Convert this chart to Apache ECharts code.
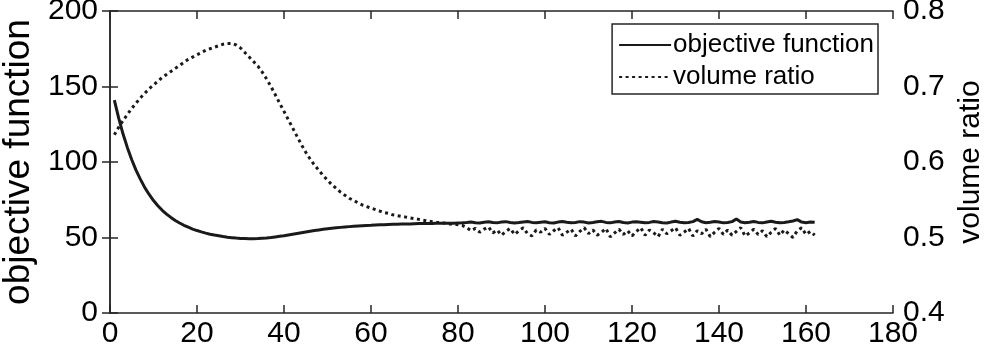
<!DOCTYPE html>
<html>
<head>
<meta charset="utf-8">
<script src="https://cdn.jsdelivr.net/npm/echarts@6/dist/echarts.min.js"></script>
<style>
	html, body { margin: 0; padding: 0; background: #fff; }
	#chartDiv { width: 995px; height: 355px; }
</style>
</head>
<body>
<div id="chartDiv"></div>
<script>
// objective function, iterations 1..162 (left axis)
var objValues = [
	141, 129, 118.5, 109.5, 101.5, 94.5, 88.5, 83, 78.5, 74.5,
	71, 68, 65.5, 63.3, 61.3, 59.6, 58.1, 56.8, 55.6, 54.6,
	53.7, 52.9, 52.2, 51.6, 51.1, 50.6, 50.2, 49.9, 49.6, 49.4,
	49.3, 49.2, 49.2, 49.3, 49.5, 49.7, 50.0, 50.4, 50.8, 51.2,
	51.7, 52.2, 52.7, 53.2, 53.7, 54.2, 54.6, 55.0, 55.4, 55.8,
	56.1, 56.4, 56.7, 57.0, 57.2, 57.4, 57.6, 57.8, 58.0, 58.1,
	58.3, 58.4, 58.5, 58.6, 58.7, 58.8, 58.9, 59.0, 59.0, 59.1,
	59.2, 59.2, 59.3, 59.3, 59.4, 59.4, 59.5, 59.5, 59.5, 59.6,
	59.7, 59.9, 60.2, 59.8, 59.6, 60.1, 60.4, 59.9, 59.7, 60.2,
	60.5, 60.0, 59.6, 59.9, 60.3, 60.6, 60.0, 59.7, 60.1, 60.4,
	59.8, 59.6, 60.2, 60.6, 60.1, 59.7, 60.0, 60.5, 60.2, 59.6,
	59.9, 60.4, 60.7, 60.0, 59.7, 60.3, 60.6, 59.9, 59.6, 60.2,
	60.5, 60.1, 59.7, 60.0, 60.6, 60.3, 59.8, 59.6, 60.2, 60.7,
	60.1, 59.7, 60.0, 60.5, 62.0, 60.4, 59.8, 60.1, 60.6, 60.2,
	59.7, 59.9, 60.5, 62.3, 60.3, 59.8, 60.1, 60.6, 60.0, 59.7,
	60.2, 60.7, 60.1, 59.7, 60.0, 60.4, 60.9, 61.8, 60.2, 59.8,
	60.3, 60.1
];

// volume ratio, iterations 1..162 (right axis)
var volValues = [
	0.636, 0.646, 0.655, 0.663, 0.671, 0.678, 0.685, 0.691, 0.697, 0.702,
	0.707, 0.712, 0.716, 0.720, 0.724, 0.728, 0.732, 0.736, 0.739, 0.742,
	0.745, 0.748, 0.750, 0.752, 0.754, 0.756, 0.757, 0.757, 0.755, 0.751,
	0.745, 0.739, 0.733, 0.727, 0.719, 0.710, 0.700, 0.689, 0.678, 0.667,
	0.656, 0.645, 0.634, 0.623, 0.613, 0.604, 0.596, 0.589, 0.582, 0.576,
	0.570, 0.565, 0.560, 0.556, 0.552, 0.549, 0.546, 0.543, 0.541, 0.539,
	0.537, 0.535, 0.533, 0.532, 0.530, 0.529, 0.528, 0.527, 0.526, 0.525,
	0.524, 0.523, 0.522, 0.521, 0.520, 0.520, 0.519, 0.518, 0.518, 0.517,
	0.516, 0.513, 0.509, 0.512, 0.507, 0.511, 0.514, 0.506, 0.510, 0.503,
	0.508, 0.512, 0.504, 0.509, 0.513, 0.505, 0.502, 0.510, 0.507, 0.512,
	0.504, 0.509, 0.513, 0.503, 0.507, 0.511, 0.502, 0.508, 0.513, 0.505,
	0.510, 0.503, 0.507, 0.512, 0.501, 0.506, 0.511, 0.504, 0.509, 0.502,
	0.508, 0.513, 0.503, 0.510, 0.506, 0.501, 0.511, 0.505, 0.509, 0.513,
	0.503, 0.507, 0.512, 0.502, 0.509, 0.505, 0.511, 0.501, 0.507, 0.512,
	0.504, 0.510, 0.503, 0.508, 0.513, 0.502, 0.506, 0.511, 0.504, 0.509,
	0.501, 0.507, 0.512, 0.503, 0.510, 0.505, 0.500, 0.509, 0.513, 0.504,
	0.508, 0.503
];

var xTicks = { min: 0, max: 180, interval: 20 };
var leftTicks = { min: 0, max: 200, interval: 50 };
var rightTicks = { min: 0.4, max: 0.8, interval: 0.1 };

var seriesNames = ['objective function', 'volume ratio'];
var axisNames = ['objective function', 'volume ratio'];

var FONT = '"Liberation Sans", Arial, Helvetica, sans-serif';
var AX = '#262626';
var LINE = '#1a1a1a';

function toPairs(arr) {
	var res = [];
	for (var i = 0; i < arr.length; i++) {
		res.push([i + 1, arr[i]]);
	}
	return res;
}

var chart = echarts.init(document.getElementById('chartDiv'));

var option = {
	animation: false,
	backgroundColor: '#fff',
	grid: {
		left: 110,
		right: 102,
		top: 11,
		bottom: 42,
		containLabel: false,
		outerBoundsMode: 'none'
	},
	legend: {
		data: seriesNames,
		orient: 'vertical',
		right: 117,
		top: 24,
		backgroundColor: '#fff',
		borderColor: AX,
		borderWidth: 1.5,
		borderRadius: 0,
		padding: [8, 4, 4, 6],
		itemGap: 6,
		itemWidth: 52,
		itemHeight: 27,
		itemStyle: { opacity: 0 },
		textStyle: {
			color: '#000',
			fontFamily: FONT,
			fontSize: 26,
			padding: [0, 0, 0, -3]
		}
	},
	xAxis: [
		{
			type: 'value',
			min: xTicks.min,
			max: xTicks.max,
			interval: xTicks.interval,
			axisLine: { lineStyle: { color: AX, width: 1.5 } },
			axisTick: { inside: true, length: 8, lineStyle: { color: AX, width: 1.5 } },
			axisLabel: { color: '#000', fontFamily: FONT, fontSize: 30, margin: 6 },
			splitLine: { show: false }
		},
		{
			type: 'value',
			position: 'top',
			min: xTicks.min,
			max: xTicks.max,
			interval: xTicks.interval,
			axisLine: { lineStyle: { color: AX, width: 1.5 } },
			axisTick: { inside: true, length: 8, lineStyle: { color: AX, width: 1.5 } },
			axisLabel: { show: false },
			splitLine: { show: false }
		}
	],
	yAxis: [
		{
			type: 'value',
			position: 'left',
			min: leftTicks.min,
			max: leftTicks.max,
			interval: leftTicks.interval,
			name: axisNames[0],
			nameLocation: 'middle',
			nameGap: 72,
			nameTextStyle: { color: '#000', fontFamily: FONT, fontSize: 37 },
			axisLine: { show: true, lineStyle: { color: AX, width: 1.5 } },
			axisTick: { show: true, inside: true, length: 8, lineStyle: { color: AX, width: 1.5 } },
			axisLabel: { color: '#000', fontFamily: FONT, fontSize: 30, margin: 12 },
			splitLine: { show: false }
		},
		{
			type: 'value',
			position: 'right',
			min: rightTicks.min,
			max: rightTicks.max,
			interval: rightTicks.interval,
			name: axisNames[1],
			nameLocation: 'middle',
			nameGap: 62,
			nameRotate: 90,
			nameTextStyle: { color: '#000', fontFamily: FONT, fontSize: 30 },
			axisLine: { show: true, lineStyle: { color: AX, width: 1.5 } },
			axisTick: { show: true, inside: true, length: 8, lineStyle: { color: AX, width: 1.5 } },
			axisLabel: {
				color: '#000',
				fontFamily: FONT,
				fontSize: 30,
				margin: 10,
				formatter: function (v) { return v.toFixed(1); }
			},
			splitLine: { show: false }
		}
	],
	series: [
		{
			name: seriesNames[0],
			type: 'line',
			xAxisIndex: 0,
			yAxisIndex: 0,
			data: toPairs(objValues),
			symbol: 'none',
			itemStyle: { color: LINE },
			lineStyle: { color: LINE, width: 3 },
			z: 3
		},
		{
			name: seriesNames[1],
			type: 'line',
			xAxisIndex: 0,
			yAxisIndex: 1,
			data: toPairs(volValues),
			symbol: 'none',
			itemStyle: { color: LINE },
			lineStyle: { color: LINE, width: 3, type: [3, 3.5], cap: 'butt' },
			z: 2
		}
	]
};

chart.setOption(option);
</script>
</body>
</html>
